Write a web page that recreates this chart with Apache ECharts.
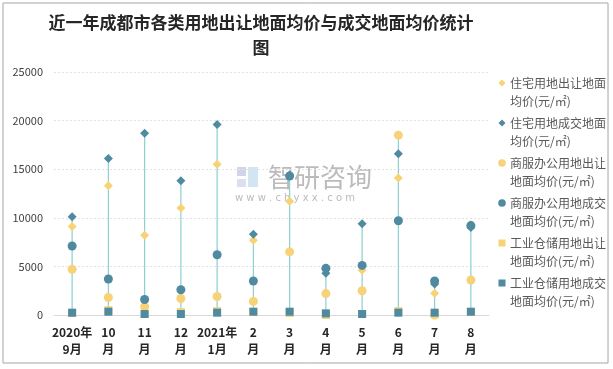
<!DOCTYPE html>
<html>
<head>
<meta charset="utf-8">
<script src="https://cdn.jsdelivr.net/npm/echarts@6/dist/echarts.min.js"></script>
<style>
html,body{margin:0;padding:0;background:#fff;}
#main{width:613px;height:369px;}
</style>
</head>
<body>
<div id="main"></div>
<script>
var titleLines = ['近一年成都市各类用地出让地面均价与成交地面均价统计', '图'];
var categories = ['2020年\n9月','10\n月','11\n月','12\n月','2021年\n1月','2\n月','3\n月','4\n月','5\n月','6\n月','7\n月','8\n月'];
var seriesNames = [
  '住宅用地出让地面均价(元/㎡)',
  '住宅用地成交地面均价(元/㎡)',
  '商服办公用地出让地面均价(元/㎡)',
  '商服办公用地成交地面均价(元/㎡)',
  '工业仓储用地出让地面均价(元/㎡)',
  '工业仓储用地成交地面均价(元/㎡)'
];
var resSell = [9100, 13300, 8200, 11000, 15500, 7700, 11700, 4700, 4600, 14100, 2250, 9300];
var resDeal = [10100, 16100, 18700, 13800, 19600, 8300, 14400, 4300, 9400, 16600, 3200, 9000];
var comSell = [4700, 1800, 850, 1700, 1900, 1400, 6500, 2200, 2500, 18500, 0, 3600];
var comDeal = [7100, 3700, 1600, 2600, 6200, 3500, 14300, 4800, 5100, 9700, 3500, 9200];
var indSell = [200, 500, 100, 300, 400, 300, 200, 0, 100, 400, 100, 300];
var indDeal = [240, 340, 100, 100, 240, 340, 340, 170, 100, 240, 240, 340];
var yTicks = [0, 5000, 10000, 15000, 20000, 25000];

var YELLOW = '#F8D276';
var DARK = '#4F8AA1';
var LINE = '#8DCFCF';

var allSeries = [resSell, resDeal, comSell, comDeal, indSell, indDeal];
var symbols = ['diamond','diamond','circle','circle','rect','rect'];
var sizes = [9, 9, 9, 9, 8, 8];
var colors = [YELLOW, DARK, YELLOW, DARK, YELLOW, DARK];

var hiLo = categories.map(function (c, i) {
  var vals = allSeries.map(function (s) { return s[i]; });
  return [i, Math.min.apply(null, vals), Math.max.apply(null, vals)];
});

var chart = echarts.init(document.getElementById('main'), null, {renderer: 'canvas'});

var series = [{
  type: 'custom',
  z: 1,
  silent: true,
  data: hiLo,
  renderItem: function (params, api) {
    var p1 = api.coord([api.value(0), api.value(1)]);
    var p2 = api.coord([api.value(0), api.value(2)]);
    return {
      type: 'line',
      shape: {x1: p1[0], y1: p1[1], x2: p2[0], y2: p2[1]},
      style: {stroke: LINE, lineWidth: 1.2}
    };
  }
}];
allSeries.forEach(function (s, k) {
  series.push({
    name: seriesNames[k],
    type: 'scatter',
    z: 2 + k,
    symbol: symbols[k],
    symbolSize: sizes[k],
    itemStyle: {color: colors[k], opacity: 1},
    data: s
  });
});

// custom legend (icon aligned with first text line)
var legendItems = [];
seriesNames.forEach(function (n, k) {
  var cy = 83 + 40 * k, cx = 502;
  var icon;
  if (symbols[k] === 'diamond') {
    icon = {type: 'polygon', shape: {points: [[cx, cy - 3.5], [cx + 3.5, cy], [cx, cy + 3.5], [cx - 3.5, cy]]}, style: {fill: colors[k]}};
  } else if (symbols[k] === 'circle') {
    icon = {type: 'circle', shape: {cx: cx, cy: cy, r: 3.8}, style: {fill: colors[k]}};
  } else {
    icon = {type: 'rect', shape: {x: cx - 3.5, y: cy - 3.5, width: 7, height: 7}, style: {fill: colors[k]}};
  }
  legendItems.push(icon);
  legendItems.push({type: 'text', x: 510, y: cy - 9, style: {
    text: n.slice(0, 8) + '\n' + n.slice(8), fill: '#595959',
    font: '12px "Noto Sans CJK SC"', lineHeight: 18, verticalAlign: 'top'
  }});
});

chart.setOption({
  animation: false,
  backgroundColor: '#fff',
  grid: {left: 54, right: 124, top: 72, bottom: 54, containLabel: false},
  xAxis: {
    type: 'category',
    data: categories,
    axisTick: {show: false},
    axisLine: {lineStyle: {color: '#d9d9d9', width: 1}},
    axisLabel: {
      interval: 0, margin: 9, color: '#262626', fontSize: 12, fontWeight: 'bold',
      fontFamily: 'Noto Sans CJK SC', lineHeight: 17
    }
  },
  yAxis: {
    type: 'value',
    min: yTicks[0], max: yTicks[yTicks.length - 1], interval: 5000,
    axisLine: {show: false},
    axisTick: {show: false},
    splitLine: {lineStyle: {color: '#e3e3e3', type: [2, 2]}},
    axisLabel: {color: '#404040', fontSize: 11, margin: 11, fontFamily: 'Noto Sans CJK SC',
      formatter: function (v) { return String(v); }}
  },
  legend: {show: false, data: seriesNames},
  graphic: [
    {type: 'rect', shape: {x: 3, y: 3, width: 605, height: 360}, style: {fill: 'none', stroke: '#a6a6a6', lineWidth: 1}, silent: true},
    {type: 'text', x: 261, y: 23, style: {text: titleLines[0], fill: '#262626', font: 'bold 17px "Noto Sans CJK SC"', align: 'center', verticalAlign: 'middle'}},
    {type: 'text', x: 261, y: 48, style: {text: titleLines[1], fill: '#262626', font: 'bold 17px "Noto Sans CJK SC"', align: 'center', verticalAlign: 'middle'}},
    {type: 'group', silent: true, children: legendItems},
    {type: 'group', z: 0, silent: true, children: [
      {type: 'rect', shape: {x: 237, y: 167, width: 9, height: 9}, style: {fill: 'rgba(150,165,205,0.45)'}},
      {type: 'rect', shape: {x: 237, y: 179, width: 9, height: 8}, style: {fill: 'rgba(150,165,205,0.35)'}},
      {type: 'rect', shape: {x: 248, y: 167, width: 10, height: 20}, style: {fill: 'rgba(140,190,225,0.40)'}},
      {type: 'text', x: 268, y: 177, style: {text: '智研咨询', fill: 'rgba(150,150,150,0.65)', font: '26px "Noto Sans CJK SC"', verticalAlign: 'middle'}},
      {type: 'text', x: 235, y: 198, style: {text: 'w w w . c h y x x . c o m', fill: 'rgba(150,150,150,0.65)', font: '10px "DejaVu Sans"', verticalAlign: 'middle'}}
    ]}
  ],
  series: series
});
</script>
</body>
</html>
